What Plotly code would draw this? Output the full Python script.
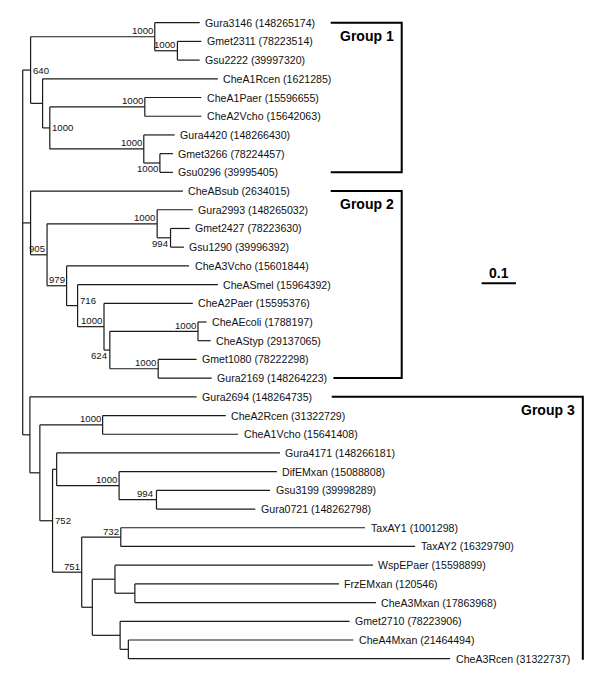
import plotly.graph_objects as go

# ---------------- data ----------------
# Tree topology with branch lengths (substitutions/site) and bootstrap values (of 1000)
NEWICK = (
    "("
    "((Gura3146:0.131,(Gmet2311:0.070,Gsu2222:0.065)1000:0.066)1000:0.362,"
    "(CheA1Rcen:0.511,((CheA1Paer:0.165,CheA2Vcho:0.165)1000:0.277,"
    "(Gura4420:0.090,(Gmet3266:0.038,Gsu0296:0.038)1000:0.047)1000:0.274)1000:0.021):0.035)640:0.023,"
    "(CheABsub:0.444,((Gura2993:0.104,(Gmet2427:0.056,Gsu1290:0.039)994:0.039)1000:0.321,"
    "(CheA3Vcho:0.357,(CheASmel:0.409,(CheA2Paer:0.259,((CheAEcoli:0.025,CheAStyp:0.037)1000:0.257,"
    "(Gmet1080:0.112,Gura2169:0.156)1000:0.141)624:0.017)1000:0.077)716:0.032)979:0.057)905:0.048):0.023,"
    "(Gura2694:0.486,((CheA2Rcen:0.359,CheA1Vcho:0.395)1000:0.183,"
    "((Gura4171:0.651,(DifEMxan:0.460,(Gsu3199:0.331,Gura0721:0.288)994:0.109)1000:0.182):0.012,"
    "((TaxAY1:0.712,TaxAY2:0.858)732:0.114,"
    "((WspEPaer:0.752,(FrzEMxan:0.595,CheA3Mxan:0.703):0.058):0.066,"
    "(Gmet2710:0.669,(CheA4Mxan:0.656,CheA3Rcen:0.938):0.024):0.081):0.031)751:0.085)752:0.037):0.029):0.021"
    ");"
)

LEAF_NAMES = [
    "Gura3146", "Gmet2311", "Gsu2222", "CheA1Rcen", "CheA1Paer", "CheA2Vcho",
    "Gura4420", "Gmet3266", "Gsu0296", "CheABsub", "Gura2993", "Gmet2427",
    "Gsu1290", "CheA3Vcho", "CheASmel", "CheA2Paer", "CheAEcoli", "CheAStyp",
    "Gmet1080", "Gura2169", "Gura2694", "CheA2Rcen", "CheA1Vcho", "Gura4171",
    "DifEMxan", "Gsu3199", "Gura0721", "TaxAY1", "TaxAY2", "WspEPaer",
    "FrzEMxan", "CheA3Mxan", "Gmet2710", "CheA4Mxan", "CheA3Rcen",
]
ACCESSIONS = [
    "148265174", "78223514", "39997320", "1621285", "15596655", "15642063",
    "148266430", "78224457", "39995405", "2634015", "148265032", "78223630",
    "39996392", "15601844", "15964392", "15595376", "1788197", "29137065",
    "78222298", "148264223", "148264735", "31322729", "15641408", "148266181",
    "15088808", "39998289", "148262798", "1001298", "16329790", "15598899",
    "120546", "17863968", "78223906", "21464494", "31322737",
]

GROUP_NAMES = ["Group 1", "Group 2", "Group 3"]
GROUP_FIRST = ["Gura3146", "CheABsub", "Gura2694"]
GROUP_LAST = ["Gsu0296", "Gura2169", "CheA3Rcen"]

SCALE_LENGTH = 0.1
SCALE_LABEL = "0.1"

# ---------------- style ----------------
FONT = "Liberation Sans, Arial, sans-serif"
LINE_COLOR = "#1a1a1a"
X_RANGE = [-0.0662, 1.6831]
Y_RANGE = [34.978, -1.2135]
# bracket geometry (x in tree units): top-left start, bottom-left start, right edge
BRACKETS = [(0.898, 0.898, 1.105), (0.898, 0.906, 1.105), (0.901, 1.630, 1.633)]
SCALE_X0 = 1.338
SCALE_Y = 13.93
# bootstrap label placement overrides keyed by (first leaf, last leaf) of clade
PLACEMENT = {
    ("Gura3146", "Gsu0296"): "r",
    ("CheA1Paer", "Gsu0296"): "r",
    ("Gmet3266", "Gsu0296"): "bl",
    ("Gmet2427", "Gsu1290"): "bl",
    ("CheASmel", "Gura2169"): "ar",
    ("CheAEcoli", "Gura2169"): "bl",
    ("Gura4171", "CheA3Rcen"): "r",
}


# ---------------- parse tree ----------------
def parse_newick(s):
    s = s.strip().rstrip(";")
    pos = 0

    def node():
        nonlocal pos
        n = {"children": [], "name": "", "len": 0.0}
        if s[pos] == "(":
            pos += 1
            while True:
                n["children"].append(node())
                if s[pos] == ",":
                    pos += 1
                    continue
                if s[pos] == ")":
                    pos += 1
                    break
        start = pos
        while pos < len(s) and s[pos] not in ":,)":
            pos += 1
        n["name"] = s[start:pos]
        if pos < len(s) and s[pos] == ":":
            pos += 1
            start = pos
            while pos < len(s) and s[pos] not in ",)":
                pos += 1
            n["len"] = float(s[start:pos])
        return n

    return node()


root = parse_newick(NEWICK)
leaf_index = {name: i for i, name in enumerate(LEAF_NAMES)}
accession = dict(zip(LEAF_NAMES, ACCESSIONS))


def layout(n, x0):
    n["x"] = x0 + n["len"]
    if not n["children"]:
        n["y"] = leaf_index[n["name"]]
        n["first"] = n["last"] = n["name"]
    else:
        for c in n["children"]:
            layout(c, n["x"])
        n["y"] = (n["children"][0]["y"] + n["children"][-1]["y"]) / 2
        n["first"] = n["children"][0]["first"]
        n["last"] = n["children"][-1]["last"]


root["len"] = 0.0
layout(root, 0.0)

xs, ys = [], []
leaves, internals = [], []


def collect(n):
    if not n["children"]:
        leaves.append(n)
        return
    internals.append(n)
    xs.extend([n["x"], n["x"], None])
    ys.extend([n["children"][0]["y"], n["children"][-1]["y"], None])
    for c in n["children"]:
        xs.extend([n["x"], c["x"], None])
        ys.extend([c["y"], c["y"], None])
        collect(c)


collect(root)

fig = go.Figure()
fig.add_trace(go.Scatter(
    x=xs, y=ys, mode="lines",
    line=dict(color=LINE_COLOR, width=1.2),
    hoverinfo="skip", showlegend=False,
))

annotations = []
for lf in leaves:
    annotations.append(dict(
        x=lf["x"], y=lf["y"], xref="x", yref="y",
        text=f"{lf['name']} ({accession[lf['name']]})",
        showarrow=False, xanchor="left", yanchor="middle", xshift=3.5,
        font=dict(family=FONT, size=10.6, color="#111"),
    ))

for n in internals:
    if not n["name"]:
        continue
    mode = PLACEMENT.get((n["first"], n["last"]), "al")
    if mode == "al":
        kw = dict(xanchor="right", xshift=0, yshift=6)
    elif mode == "bl":
        kw = dict(xanchor="right", xshift=0, yshift=-5.5)
    elif mode == "ar":
        kw = dict(xanchor="left", xshift=0, yshift=5)
    else:
        kw = dict(xanchor="left", xshift=0, yshift=0)
    annotations.append(dict(
        x=n["x"], y=n["y"], xref="x", yref="y", text=n["name"],
        showarrow=False, yanchor="middle",
        font=dict(family=FONT, size=9.6, color="#111"), **kw,
    ))

# group brackets
for gname, first, last, (tl, bl, rx) in zip(GROUP_NAMES, GROUP_FIRST, GROUP_LAST, BRACKETS):
    y0 = leaf_index[first]
    y1 = leaf_index[last]
    fig.add_trace(go.Scatter(
        x=[tl, rx, rx, bl], y=[y0, y0, y1, y1], mode="lines",
        line=dict(color="#000", width=2), hoverinfo="skip", showlegend=False,
    ))
    annotations.append(dict(
        x=rx, y=y0, xref="x", yref="y", text=f"<b>{gname}</b>",
        showarrow=False, xanchor="right", yanchor="middle", xshift=-6, yshift=-13,
        font=dict(family=FONT, size=14, color="#000"),
    ))

# scale bar
fig.add_trace(go.Scatter(
    x=[SCALE_X0, SCALE_X0 + SCALE_LENGTH], y=[SCALE_Y, SCALE_Y], mode="lines",
    line=dict(color="#000", width=2), hoverinfo="skip", showlegend=False,
))
annotations.append(dict(
    x=SCALE_X0 + SCALE_LENGTH / 2, y=SCALE_Y, xref="x", yref="y",
    text=f"<b>{SCALE_LABEL}</b>", showarrow=False, xanchor="center",
    yanchor="middle", yshift=10, font=dict(family=FONT, size=14, color="#000"),
))

fig.update_layout(
    width=600, height=677,
    margin=dict(l=0, r=0, t=0, b=0),
    paper_bgcolor="white", plot_bgcolor="white",
    xaxis=dict(range=X_RANGE, visible=False, fixedrange=True),
    yaxis=dict(range=Y_RANGE, visible=False, fixedrange=True),
    annotations=annotations,
    showlegend=False,
)

fig.write_html(
    "out.html",
    config={"displayModeBar": False},
    post_script="document.body.style.margin='0';document.body.style.padding='0';"
                "document.body.style.overflow='hidden';",
)
